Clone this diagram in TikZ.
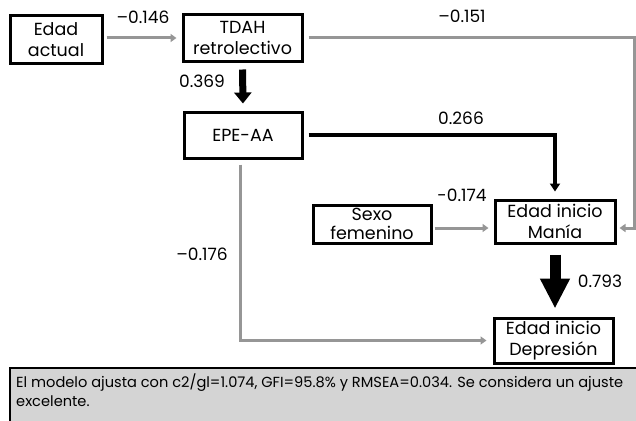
\documentclass[tikz,border=0pt]{standalone}
\usepackage{fontspec}
\setmainfont{Poppins}
\usetikzlibrary{arrows.meta}
\definecolor{lgray}{RGB}{150,150,150}
\definecolor{capfill}{RGB}{212,212,212}
\begin{document}
\begin{tikzpicture}[x=1pt,y=-1pt,
  box/.style={draw=black,line width=3pt,fill=white,align=center,inner sep=0pt,
    font=\fontsize{17.5}{21}\selectfont},
  lab/.style={font=\fontsize{17}{20}\selectfont,inner sep=0pt},
  glink/.style={draw=lgray,line width=3pt,-{Triangle[width=8pt,length=6pt]}},
  blink/.style={draw=black,line width=3.2pt,-{Triangle[width=10pt,length=8pt]}}]
\useasboundingbox (0,0) rectangle (636,420);
% caption
\path[fill=capfill,draw=black,line width=2pt] (10,368) rectangle (645,430);
\node[anchor=north west,inner sep=0pt,align=left,
  font=\fontsize{14.6}{19}\selectfont] (cap) at (16,374)
  {El modelo ajusta con c2/gl=1.074, GFI=95.8\% y RMSEA=0.034. Se considera un ajuste\\excelente.};
% boxes
\node[box,minimum width=92pt,minimum height=47pt] (ea) at (56,39.5) {Edad\\actual};
\node[box,minimum width=119pt,minimum height=46pt] (tdah) at (242.5,38) {TDAH\\retrolectivo};
\node[box,minimum width=118pt,minimum height=46pt] (epe) at (243,135) {EPE-AA};
\node[box,minimum width=118pt,minimum height=38pt,font=\fontsize{17.5}{19}\selectfont] (sexo) at (372,224) {Sexo\\femenino};
\node[box,minimum width=120pt,minimum height=43pt] (mania) at (555,221.5) {Edad inicio\\Manía};
\node[box,minimum width=119pt,minimum height=45pt] (dep) at (553.5,340.5) {Edad inicio\\Depresión};
\coordinate (rc) at (634,38);
% connectors
\draw[glink,shorten <=3pt,shorten >=5pt] ([yshift=1.5pt]ea.east) -- ([yshift=1.5pt]ea.east -| tdah.west);
\draw[draw=black,line width=7pt,-{Triangle[width=17pt,length=11pt]},shorten <=7pt,shorten >=7pt]
  (tdah.south) -- (epe.north);
\draw[glink,shorten <=5pt,shorten >=3pt] (tdah.east) -- (rc) |- ([yshift=-6.5pt]mania.east);
\draw[blink,shorten <=5pt,shorten >=7pt] (epe.east) -| (mania.north);
\draw[glink,shorten <=2pt,shorten >=5pt] ([yshift=-4pt]sexo.east) -- ([yshift=-4pt]sexo.east -| mania.west);
\draw[draw=black,line width=11pt,-{Triangle[width=28pt,length=30pt]},shorten <=10pt,shorten >=8pt]
  (mania.south) -- (mania.south |- dep.north);
\draw[glink,shorten <=5pt,shorten >=6pt] ([xshift=-3pt]epe.south) |- (dep.west);
% labels
\node[lab] (l1) at (143,17) {–0.146};
\node[lab] (l2) at (202,81) {0.369};
\node[lab] (l3) at (462,16) {–0.151};
\node[lab] (l4) at (461,118) {0.266};
\node[lab] (l5) at (462,195) {-0.174};
\node[lab] (l6) at (600,281) {0.793};
\node[lab] (l7) at (202,254) {–0.176};
\end{tikzpicture}
\end{document}
